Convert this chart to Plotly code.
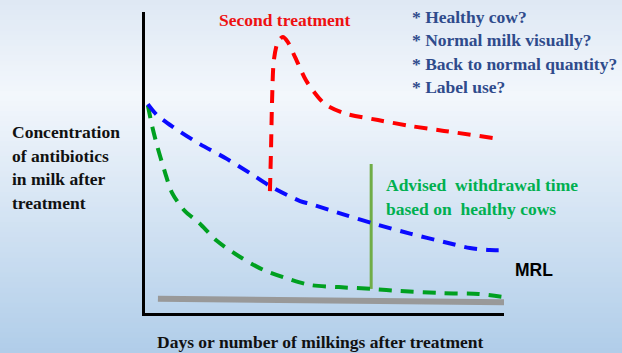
import plotly.graph_objects as go

# ---- data (days after treatment, relative concentration) ----
healthy_days = [0.08, 0.2, 0.35, 0.55, 0.75, 1.1, 1.5, 2.0, 2.65, 3.3, 4.0, 4.6, 5.4, 6.3, 7.1, 8.3, 9.3, 10.0]
healthy_conc = [69, 62, 55, 47, 40, 34, 30, 24, 18.6, 14.3, 11.3, 9.3, 8.6, 8.0, 7.3, 6.6, 6.3, 5.3]

sick_days = [0.08, 0.33, 0.78, 1.53, 2.28, 2.92, 3.48, 4.32, 4.62, 5.57, 6.49, 7.41, 8.33, 9.05, 9.6, 10.0]
sick_conc = [69.4, 65.8, 61.8, 56.1, 51.2, 46.5, 42.2, 37.2, 36.2, 32.6, 29.3, 26.3, 23.6, 21.6, 20.9, 20.9]

second_days = [3.48, 3.51, 3.54, 3.59, 3.70, 3.84, 3.98, 4.18, 4.48, 4.71, 5.01, 5.54, 6.49, 7.41, 8.33, 9.72]
second_conc = [40.5, 54.2, 70.8, 84.0, 90.0, 91.7, 90.0, 85.0, 77.4, 73.4, 69.4, 66.4, 64.1, 62.1, 60.5, 58.1]

mrl_days = [0.36, 10.0]
mrl_conc = [4.7, 3.6]

withdrawal_days = [6.3, 6.3]
withdrawal_conc = [8.0, 49.5]

questions = ["* Healthy cow?", "* Normal milk visually?", "* Back to normal quantity?", "* Label use?"]
ylabel_lines = ["Concentration", "of antibiotics", "in milk after", "treatment"]
advised_lines = ["Advised\u00a0\u00a0withdrawal time", "based on\u00a0\u00a0healthy cows"]

W, H = 622, 353
L, R, T, B = 145, 504, 12, 313


def xp(px):
    return (px - L) / (R - L)


def yp(py):
    return (B - py) / (B - T)


fig = go.Figure()
dash = "13px,9px"
fig.add_trace(go.Scatter(x=mrl_days, y=mrl_conc, mode="lines",
                         line=dict(color="#999999", width=6)))
fig.add_trace(go.Scatter(x=withdrawal_days, y=withdrawal_conc, mode="lines",
                         line=dict(color="#70ad47", width=3)))
fig.add_trace(go.Scatter(x=healthy_days, y=healthy_conc, mode="lines",
                         line=dict(color="#00a020", width=4, dash=dash, shape="spline", smoothing=0.8)))
fig.add_trace(go.Scatter(x=sick_days, y=sick_conc, mode="lines",
                         line=dict(color="#0a0aff", width=4, dash=dash, shape="spline", smoothing=0.8)))
fig.add_trace(go.Scatter(x=second_days, y=second_conc, mode="lines",
                         line=dict(color="#ff0000", width=4, dash=dash, shape="spline", smoothing=0.8)))

# background gradient bands
shapes = []
n = 70
def bg(t):
    stops = [(0.0, (222, 232, 244)), (0.27, (243, 247, 252)), (1.0, (176, 205, 233))]
    for (a, ca), (b, cb) in zip(stops[:-1], stops[1:]):
        if a <= t <= b:
            f = (t - a) / (b - a)
            return tuple(round(ca[i] + (cb[i] - ca[i]) * f) for i in range(3))
    return stops[-1][1]

for i in range(n):
    y0 = H * i / n
    y1 = H * (i + 1) / n + 1
    c = bg((i + 0.5) / n)
    shapes.append(dict(type="rect", xref="paper", yref="paper", layer="below",
                       x0=xp(0), x1=xp(W), y0=yp(y1), y1=yp(y0),
                       fillcolor="rgb(%d,%d,%d)" % c, line=dict(width=0)))

serif = "Liberation Serif, Times New Roman, DejaVu Serif, serif"
FS = 17.5
ann = []
ann.append(dict(text="<b>Second treatment</b>", x=xp(285), y=yp(20), xanchor="center", yanchor="middle",
                font=dict(family=serif, size=FS, color="#ee1111")))
for i, q in enumerate(questions):
    ann.append(dict(text="<b>%s</b>" % q, x=xp(410), y=yp(17 + 23.3 * i), xanchor="left", yanchor="middle",
                    font=dict(family=serif, size=FS, color="#2f4b8c")))
for i, s in enumerate(ylabel_lines):
    ann.append(dict(text="<b>%s</b>" % s, x=xp(10), y=yp(132 + 23.5 * i), xanchor="left", yanchor="middle",
                    font=dict(family=serif, size=FS, color="#111111")))
for i, s in enumerate(advised_lines):
    ann.append(dict(text="<b>%s</b>" % s, x=xp(384), y=yp(185 + 24 * i), xanchor="left", yanchor="middle",
                    font=dict(family=serif, size=FS, color="#00b050")))
ann.append(dict(text="<b>MRL</b>", x=xp(513), y=yp(270), xanchor="left", yanchor="middle",
                font=dict(family="Liberation Sans, Arial, sans-serif", size=17.5, color="#000000")))
ann.append(dict(text="<b>Days or number of milkings after treatment</b>", x=xp(320), y=yp(342),
                xanchor="center", yanchor="middle",
                font=dict(family=serif, size=FS, color="#111111")))
for a in ann:
    a.update(xref="paper", yref="paper", showarrow=False)

fig.update_layout(
    width=W, height=H,
    margin=dict(l=L, r=W - R, t=T, b=H - B, pad=0),
    paper_bgcolor="#c9dcef", plot_bgcolor="rgba(0,0,0,0)",
    showlegend=False,
    shapes=shapes, annotations=ann,
    xaxis=dict(range=[0, 10], showgrid=False, zeroline=False, showticklabels=False, ticks="",
               showline=True, linecolor="#000000", linewidth=3),
    yaxis=dict(range=[0, 100], showgrid=False, zeroline=False, showticklabels=False, ticks="",
               showline=True, linecolor="#000000", linewidth=3),
)
fig.write_html("out.html", config={"displayModeBar": False},
               post_script="document.body.style.margin='0px';document.body.style.overflow='hidden';")
